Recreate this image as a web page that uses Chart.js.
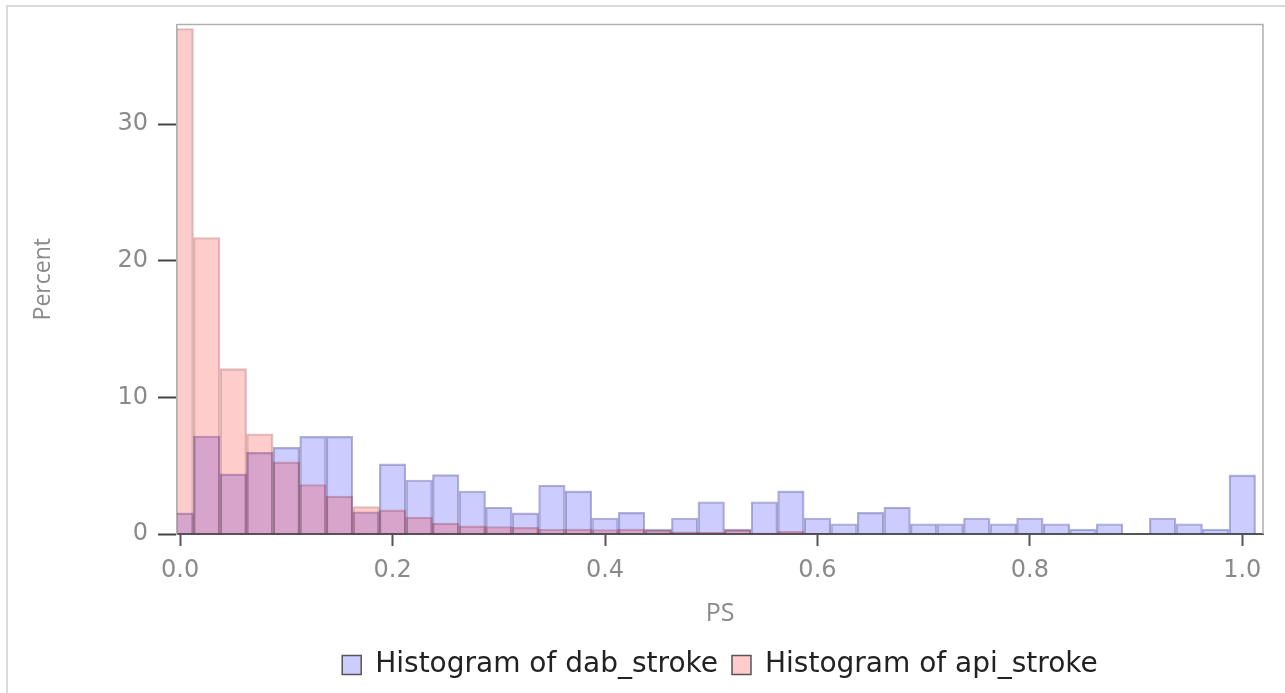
<!DOCTYPE html>
<html>
<head>
<meta charset="utf-8">
<script src="https://cdn.jsdelivr.net/npm/chart.js@4/dist/chart.umd.min.js"></script>
<style>
  html, body { margin: 0; padding: 0; background: #fff; }
  canvas { display: block; }
</style>
</head>
<body>
<canvas id="histChart" width="1285" height="693"></canvas>
<script>
// bin centres of the PS histogram (bin width 0.025)
const binCenters = [0, 0.025, 0.05, 0.075, 0.1, 0.125, 0.15, 0.175, 0.2, 0.225,
    0.25, 0.275, 0.3, 0.325, 0.35, 0.375, 0.4, 0.425, 0.45, 0.475,
    0.5, 0.525, 0.55, 0.575, 0.6, 0.625, 0.65, 0.675, 0.7, 0.725,
    0.75, 0.775, 0.8, 0.825, 0.85, 0.875, 0.9, 0.925, 0.95, 0.975, 1.0];
const dabStroke = [1.55, 7.17, 4.4, 5.98, 6.34, 7.14, 7.14, 1.63, 5.13, 3.95,
    4.35, 3.15, 1.96, 1.55, 3.57, 3.16, 1.17, 1.58, 0.36, 1.17,
    2.36, 0.36, 2.36, 3.16, 1.17, 0.75, 1.58, 1.97, 0.75, 0.75,
    1.17, 0.75, 1.17, 0.75, 0.36, 0.75, 0, 1.17, 0.75, 0.36, 4.33];
const apiStroke = [37.0, 21.7, 12.1, 7.34, 5.28, 3.62, 2.77, 2.01, 1.76, 1.23,
    0.8, 0.6, 0.55, 0.48, 0.35, 0.36, 0.33, 0.36, 0.27, 0.15,
    0.12, 0.3, 0.07, 0.2, 0.03, 0, 0, 0, 0, 0,
    0, 0, 0, 0, 0, 0, 0, 0, 0, 0, 0];
const xTicks = [0, 0.2, 0.4, 0.6, 0.8, 1.0];
const yTicks = [0, 10, 20, 30];

const toPoints = vals => binCenters.map((c, i) => ({ x: c, y: vals[i] }));

const framePlugin = {
    id: 'frame',
    afterLayout(chart) {
        // centre the legend under the plot area, like the x title
        const a = chart.chartArea;
        if (chart.legend) {
            chart.legend.left = a.left;
            chart.legend.right = a.right;
        }
    },
    beforeDraw(chart) {
        const c = chart.ctx;
        c.save();
        c.strokeStyle = '#d9d9d9';
        c.lineWidth = 2;
        c.beginPath();
        c.moveTo(7, 693);
        c.lineTo(7, 6);
        c.lineTo(1285, 6);
        c.stroke();
        c.restore();
    },
    afterDatasetsDraw(chart) {
        const a = chart.chartArea;
        const c = chart.ctx;
        c.save();
        c.strokeStyle = '#b0b0b0';
        c.lineWidth = 1.5;
        c.beginPath();
        c.moveTo(a.left, a.top);
        c.lineTo(a.right, a.top);
        c.lineTo(a.right, a.bottom);
        c.stroke();
        c.restore();
    }
};

const ctx = document.getElementById('histChart').getContext('2d');
new Chart(ctx, {
    type: 'bar',
    data: {
        datasets: [{
            label: 'Histogram of dab_stroke',
            data: toPoints(dabStroke),
            backgroundColor: 'rgba(0, 0, 255, 0.2)',
            borderColor: 'rgba(0, 0, 110, 0.3)',
            borderWidth: 1.5,
            order: 1,
            grouped: false,
            barPercentage: 1,
            categoryPercentage: 1
        }, {
            label: 'Histogram of api_stroke',
            data: toPoints(apiStroke),
            backgroundColor: 'rgba(255, 0, 0, 0.2)',
            borderColor: 'rgba(120, 0, 0, 0.25)',
            borderWidth: 1.5,
            order: 0,
            grouped: false,
            barPercentage: 1,
            categoryPercentage: 1
        }]
    },
    options: {
        responsive: false,
        animation: false,
        layout: { padding: { left: 30, top: 19, right: 22, bottom: 4 } },
        scales: {
            x: {
                type: 'linear',
                offset: false,
                min: -0.003,
                max: 1.0195,
                afterBuildTicks: s => { s.ticks = xTicks.map(v => ({ value: v })); },
                afterFit: s => { s.height = 103; },
                ticks: {
                    callback: v => v.toFixed(1),
                    color: '#8a8a8a',
                    font: { family: 'DejaVu Sans', size: 24 },
                    padding: 10,
                    maxRotation: 0
                },
                grid: { offset: false, drawOnChartArea: false, tickLength: 12, tickWidth: 2, color: '#555' },
                border: { color: '#555', width: 2 },
                title: {
                    display: true, text: 'PS', color: '#8a8a8a',
                    font: { family: 'Open Sans', size: 25 },
                    padding: { top: 4, bottom: 8 }
                }
            },
            y: {
                min: 0,
                max: 37.3,
                afterBuildTicks: s => { s.ticks = yTicks.map(v => ({ value: v })); },
                afterFit: s => { s.width = 147; },
                ticks: {
                    color: '#8a8a8a',
                    font: { family: 'DejaVu Sans', size: 24 },
                    padding: 10
                },
                grid: { drawOnChartArea: false, tickLength: 19, tickWidth: 2, color: '#444' },
                border: { color: '#b0b0b0', width: 1.5 },
                title: {
                    display: true, text: 'Percent', color: '#8a8a8a',
                    font: { family: 'Open Sans', size: 23 },
                    padding: { top: 0, bottom: 0 }
                }
            }
        },
        plugins: {
            tooltip: { enabled: false },
            legend: {
                position: 'bottom',
                reverse: true,
                labels: {
                    boxWidth: 19,
                    boxHeight: 19,
                    color: '#222',
                    font: { family: 'DejaVu Sans', size: 28 },
                    padding: 14,
                    generateLabels: chart => Chart.defaults.plugins.legend.labels.generateLabels(chart)
                        .map(l => Object.assign(l, { strokeStyle: '#555', lineWidth: 1.5 }))
                }
            }
        }
    },
    plugins: [framePlugin]
});
</script>
</body>
</html>
